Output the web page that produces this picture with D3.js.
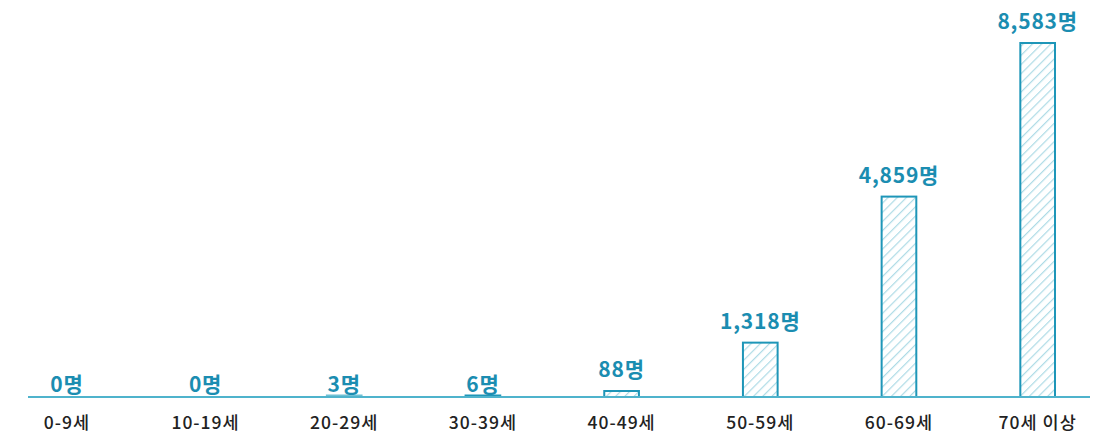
<!DOCTYPE html>
<html><head><meta charset="utf-8">
<script src="https://cdn.jsdelivr.net/npm/d3@7"></script>
<style>
html,body{margin:0;padding:0;background:#fff;}
svg{display:block;}
</style></head>
<body>
<svg id="chart" width="1100" height="446"></svg>
<script>
const categories = ["0-9세","10-19세","20-29세","30-39세","40-49세","50-59세","60-69세","70세 이상"];
const values = [0, 0, 3, 6, 88, 1318, 4859, 8583];
const valueLabels = ["0명","0명","3명","6명","88명","1,318명","4,859명","8,583명"];

const W = 1100, H = 446;
const baseY = 397;
const svg = d3.select("#chart");

const x = d3.scaleBand().domain(categories).range([-2.5, 1107]).paddingInner(0.75).paddingOuter(0.375);
const y = d3.scaleLinear().domain([0, d3.max(values)]).range([baseY, 43]);

const defs = svg.append("defs");
const pat = defs.append("pattern").attr("id","hatch").attr("patternUnits","userSpaceOnUse")
  .attr("width",6.5).attr("height",6.5).attr("patternTransform","rotate(45)");
pat.append("rect").attr("width",6.5).attr("height",6.5).attr("fill","#ffffff");
pat.append("line").attr("x1",0).attr("y1",0).attr("x2",0).attr("y2",6.5)
  .attr("stroke","#addbe6").attr("stroke-width",2.4);

const data = categories.map((c,i)=>({c, v: values[i], label: valueLabels[i]}));

function barTop(d){
  if (d.v <= 0) return baseY;
  const real = y(d.v);
  const minH = d.v >= 50 ? 6 : 1.5;
  return Math.min(real, baseY - minH);
}

// bars
svg.append("g").selectAll("rect").data(data.filter(d=>d.v>0)).join("rect")
  .attr("x", d=>x(d.c))
  .attr("y", d=>barTop(d))
  .attr("width", x.bandwidth())
  .attr("height", d=>baseY - barTop(d))
  .attr("fill","url(#hatch)")
  .attr("stroke", d=> d.v < 5 ? "#6fc0d4" : "#1e96b8")
  .attr("stroke-width", 2);

// axis line
const xAxis = d3.axisBottom(x).tickSize(0).tickPadding(20);
const gAxis = svg.append("g").attr("transform",`translate(0,${baseY})`).call(xAxis);
gAxis.select(".domain").attr("d","M28,0H1090").attr("stroke","#4fb3cc").attr("stroke-width",2);
gAxis.selectAll(".tick text")
  .attr("font-family","'Noto Sans CJK KR','Noto Sans',sans-serif")
  .attr("font-size",17.5).attr("font-weight",500).attr("letter-spacing",1).attr("fill","#222");

// value labels
svg.append("g").selectAll("text").data(data).join("text")
  .attr("x", d=>x(d.c)+x.bandwidth()/2)
  .attr("y", d=> d.v < 10 ? baseY - 5 : barTop(d) - 14)
  .attr("text-anchor","middle")
  .attr("font-family","'Noto Sans CJK KR','Noto Sans',sans-serif")
  .attr("font-size",21).attr("font-weight",700).attr("letter-spacing",0.8).attr("fill","#1b8db1")
  .text(d=>d.label);
</script>
</body></html>
